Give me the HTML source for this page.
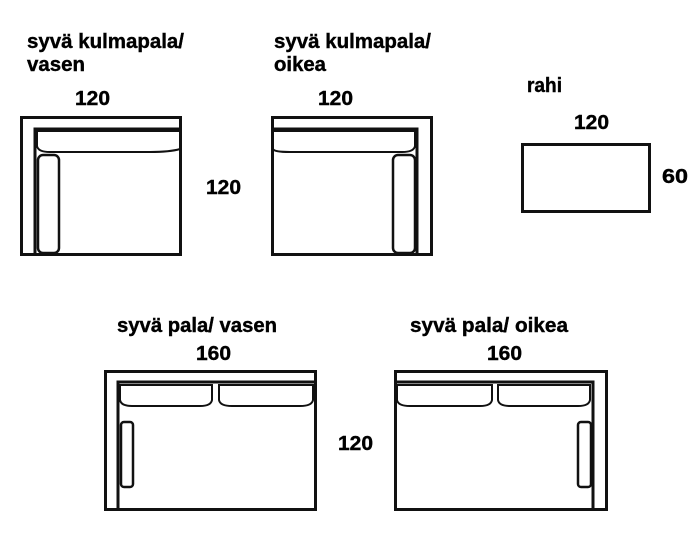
<!DOCTYPE html>
<html><head><meta charset="utf-8"><style>
html,body{margin:0;padding:0;background:#fff;}
svg{display:block}
text{font-family:"Liberation Sans",Arial,sans-serif;font-weight:bold;fill:#000;font-size:20px;stroke:#000;stroke-width:0.4}
</style></head><body>
<svg width="700" height="554" viewBox="0 0 700 554" xmlns="http://www.w3.org/2000/svg">
<g>
<text x="27" y="48" textLength="157" lengthAdjust="spacingAndGlyphs">syvä kulmapala/</text>
<text x="27" y="71" textLength="58" lengthAdjust="spacingAndGlyphs">vasen</text>
<text x="75" y="105" textLength="35" lengthAdjust="spacingAndGlyphs">120</text>
<text x="206" y="194" textLength="35" lengthAdjust="spacingAndGlyphs">120</text>
<text x="274" y="48" textLength="157" lengthAdjust="spacingAndGlyphs">syvä kulmapala/</text>
<text x="274" y="71" textLength="52" lengthAdjust="spacingAndGlyphs">oikea</text>
<text x="318" y="105" textLength="35" lengthAdjust="spacingAndGlyphs">120</text>
<text x="527" y="92" textLength="35" lengthAdjust="spacingAndGlyphs">rahi</text>
<text x="574" y="129" textLength="35" lengthAdjust="spacingAndGlyphs">120</text>
<text x="662" y="183" textLength="26" lengthAdjust="spacingAndGlyphs">60</text>
<text x="117" y="332" textLength="160" lengthAdjust="spacingAndGlyphs">syvä pala/ vasen</text>
<text x="196" y="360" textLength="35" lengthAdjust="spacingAndGlyphs">160</text>
<text x="338" y="450" textLength="35" lengthAdjust="spacingAndGlyphs">120</text>
<text x="410" y="332" textLength="158" lengthAdjust="spacingAndGlyphs">syvä pala/ oikea</text>
<text x="487" y="360" textLength="35" lengthAdjust="spacingAndGlyphs">160</text>
</g>
<g fill="none" stroke="#111" stroke-width="3">
<rect x="21.5" y="117.5" width="159" height="137"/>
<polyline points="35,254 35,129 181,129"/>
<path d="M37,131 H180 V149 Q170,152 150,152 H50 Q38,152 37,146 Z" stroke-width="2"/>
<rect x="38" y="155" width="21" height="98" rx="5" stroke-width="2.5"/>
<rect x="272.5" y="117.5" width="159" height="137"/>
<polyline points="417,254 417,129 272,129"/>
<path d="M273,131 H415 V146 Q414,152 402,152 H290 Q274,152 273,149 Z" stroke-width="2"/>
<rect x="393" y="155" width="22" height="98" rx="5" stroke-width="2.5"/>
<rect x="522.5" y="144.5" width="127" height="67"/>
<rect x="105.5" y="371.5" width="210" height="138"/>
<polyline points="118,510 118,382 316,382"/>
<path d="M120,385 H212 V400 Q211,406 200,406 H132 Q121,406 120,400 Z" stroke-width="2"/>
<path d="M219,385 H313 V400 Q312,406 300,406 H232 Q220,406 219,400 Z" stroke-width="2"/>
<rect x="121" y="422" width="12" height="65" rx="3" stroke-width="2.5"/>
<rect x="395.5" y="371.5" width="211" height="138"/>
<polyline points="593,510 593,382 395,382"/>
<path d="M397,385 H492 V400 Q491,406 480,406 H410 Q398,406 397,400 Z" stroke-width="2"/>
<path d="M498,385 H590 V400 Q589,406 578,406 H510 Q499,406 498,400 Z" stroke-width="2"/>
<rect x="578" y="422" width="13" height="65" rx="3" stroke-width="2.5"/>
</g>
</svg>
</body></html>
